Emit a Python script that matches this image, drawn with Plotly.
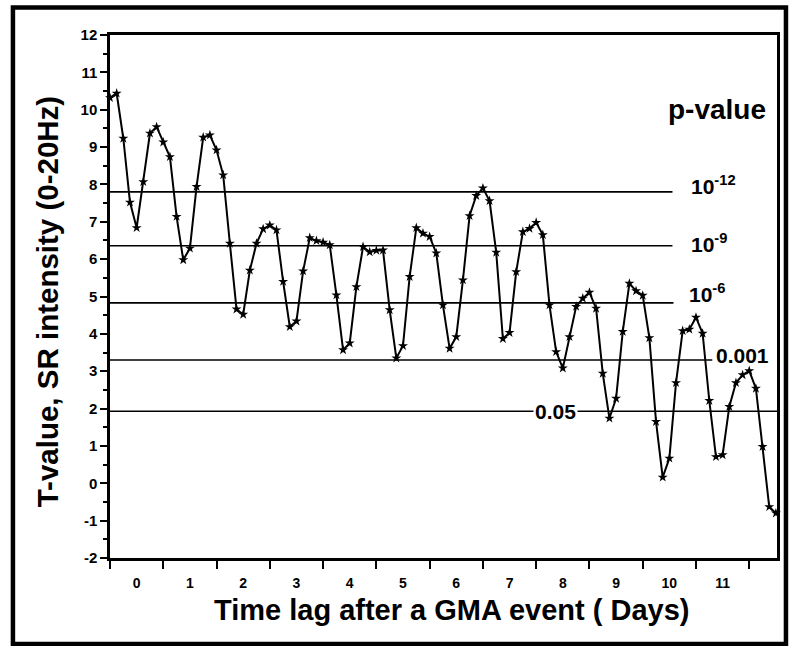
import plotly.graph_objects as go

# Time lag in hours (3-hour steps) and T-values
lag_hours = [-12, -9, -6, -3, 0, 3, 6, 9, 12, 15, 18, 21, 24, 27, 30, 33, 36, 39, 42, 45,
             48, 51, 54, 57, 60, 63, 66, 69, 72, 75, 78, 81, 84, 87, 90, 93, 96, 99, 102, 105,
             108, 111, 114, 117, 120, 123, 126, 129, 132, 135, 138, 141, 144, 147, 150, 153,
             156, 159, 162, 165, 168, 171, 174, 177, 180, 183, 186, 189, 192, 195, 198, 201,
             204, 207, 210, 213, 216, 219, 222, 225, 228, 231, 234, 237, 240, 243, 246, 249,
             252, 255, 258, 261, 264, 267, 270, 273, 276, 279, 282, 285, 288]
t_values = [10.32, 10.44, 9.23, 7.52, 6.84, 8.07, 9.37, 9.54, 9.13, 8.74,
            7.14, 5.98, 6.29, 7.94, 9.26, 9.32, 8.92, 8.25, 6.42, 4.66,
            4.52, 5.70, 6.42, 6.81, 6.91, 6.78, 5.40, 4.19, 4.34, 5.68,
            6.57, 6.49, 6.45, 6.38, 5.04, 3.57, 3.75, 5.26, 6.33, 6.19,
            6.23, 6.24, 4.64, 3.35, 3.68, 5.53, 6.84, 6.69, 6.60, 6.16,
            4.77, 3.61, 3.92, 5.44, 7.16, 7.70, 7.90, 7.56, 6.18, 3.87,
            4.03, 5.66, 6.73, 6.82, 6.98, 6.65, 4.77, 3.52, 3.08, 3.92,
            4.73, 4.95, 5.11, 4.68, 2.94, 1.74, 2.27, 4.06, 5.35, 5.15,
            5.03, 3.89, 1.65, 0.16, 0.67, 2.69, 4.08, 4.12, 4.44, 4.01,
            2.21, 0.71, 0.76, 2.05, 2.69, 2.90, 3.01, 2.54, 0.98, -0.63, -0.80]

# Day tick labels (placed at day centres, in hours)
day_tick_hours = [0, 24, 48, 72, 96, 120, 144, 168, 192, 216, 240, 264]
day_tick_labels = ["0", "1", "2", "3", "4", "5", "6", "7", "8", "9", "10", "11"]

# Y tick values and labels (plain hyphen minus as in the reference)
y_tick_vals = [-2, -1, 0, 1, 2, 3, 4, 5, 6, 7, 8, 9, 10, 11, 12]
y_tick_labels = ["-2", "-1", "0", "1", "2", "3", "4", "5", "6", "7", "8", "9", "10", "11", "12"]

# p-value threshold lines
p_thresholds = [7.80, 6.36, 4.83, 3.30, 1.93]
p_labels = ["10<sup>-12</sup>", "10<sup>-9</sup>", "10<sup>-6</sup>", "0.001", "0.05"]

FONT = "Liberation Sans, Arial, sans-serif"

W, H = 792, 646
ML, MR, MT, MB = 110, 12, 35, 88
PW = W - ML - MR
PH = H - MT - MB


def px_x(px):
    return (px - ML) / PW


def px_y(py):
    return (H - MB - py) / PH


fig = go.Figure()

fig.add_trace(go.Scatter(
    x=lag_hours, y=t_values, mode="lines+markers",
    line=dict(color="black", width=2),
    marker=dict(symbol="star", size=7.5, color="black"),
    cliponaxis=False, showlegend=False, hoverinfo="skip",
))

# threshold lines (end positions in pixels)
line_ends_px = [675, 675, 676, 715, 780]
shapes = []
for val, xe in zip(p_thresholds, line_ends_px):
    shapes.append(dict(type="line", xref="paper", yref="y", x0=0, x1=px_x(xe),
                       y0=val, y1=val, line=dict(color="black", width=1.6)))

# outer frame
shapes.append(dict(type="rect", xref="paper", yref="paper",
                   x0=px_x(12.5), x1=px_x(789), y0=px_y(644), y1=px_y(7.5),
                   line=dict(color="black", width=4.5), fillcolor="rgba(0,0,0,0)"))

annotations = []
# labels for the upper three thresholds
label_pos = [(692, 185), (692, 243), (690, 293)]
for txt, (lx, ly) in zip(p_labels[:3], label_pos):
    annotations.append(dict(text=txt, xref="paper", yref="paper", x=px_x(lx), y=px_y(ly),
                            xanchor="left", yanchor="middle", showarrow=False,
                            font=dict(family=FONT, size=21, color="black", weight="bold")))
annotations.append(dict(text=p_labels[3], xref="paper", yref="paper", x=px_x(717), y=px_y(355),
                        xanchor="left", yanchor="middle", showarrow=False,
                        font=dict(family=FONT, size=21, color="black", weight="bold")))
annotations.append(dict(text=p_labels[4], xref="paper", yref="y", x=px_x(558), y=p_thresholds[4],
                        xanchor="center", yanchor="middle", showarrow=False, bgcolor="white",
                        borderpad=1,
                        font=dict(family=FONT, size=21, color="black", weight="bold")))
annotations.append(dict(text="p-value", xref="paper", yref="paper", x=px_x(771), y=px_y(110),
                        xanchor="right", yanchor="middle", showarrow=False,
                        font=dict(family=FONT, size=28, color="black", weight="bold")))
# axis titles
annotations.append(dict(text="Time lag after a GMA event ( Days)", xref="paper", yref="paper",
                        x=px_x(453), y=px_y(610), xanchor="center", yanchor="middle",
                        showarrow=False,
                        font=dict(family=FONT, size=29, color="black", weight="bold")))
annotations.append(dict(text="T-value, SR intensity (0-20Hz)", xref="paper", yref="paper",
                        x=px_x(47), y=px_y(302), xanchor="center", yanchor="middle",
                        textangle=-90, showarrow=False,
                        font=dict(family=FONT, size=29.5, color="black", weight="bold")))

fig.update_layout(
    width=W, height=H, autosize=False,
    margin=dict(l=ML, r=MR, t=MT, b=MB, pad=0),
    paper_bgcolor="white", plot_bgcolor="white",
    shapes=shapes, annotations=annotations,
    showlegend=False,
)

fig.update_xaxes(
    range=[-12, 288.5], tickmode="array", tickvals=day_tick_hours, ticktext=day_tick_labels,
    ticks="", ticklabelstandoff=10,
    tickfont=dict(family=FONT, size=14, color="black", weight="bold"),
    showgrid=False, zeroline=False,
    showline=True, linecolor="black", linewidth=2.5, mirror=True,
    minor=dict(tick0=-12, dtick=24, ticks="outside", ticklen=8, tickwidth=2, tickcolor="black",
               showgrid=False),
)
fig.update_yaxes(
    range=[-2, 12], tickmode="array", tickvals=y_tick_vals, ticktext=y_tick_labels,
    ticks="outside", ticklen=7, tickwidth=2, tickcolor="black",
    tickfont=dict(family=FONT, size=15, color="black", weight="bold"),
    showgrid=False, zeroline=False,
    showline=True, linecolor="black", linewidth=2.5, mirror=True,
    minor=dict(tick0=-2, dtick=0.5, ticks="outside", ticklen=4, tickwidth=1.5, tickcolor="black",
               showgrid=False),
)

fig.write_html("out.html", config={"displayModeBar": False},
               post_script="document.body.style.margin='0';")
